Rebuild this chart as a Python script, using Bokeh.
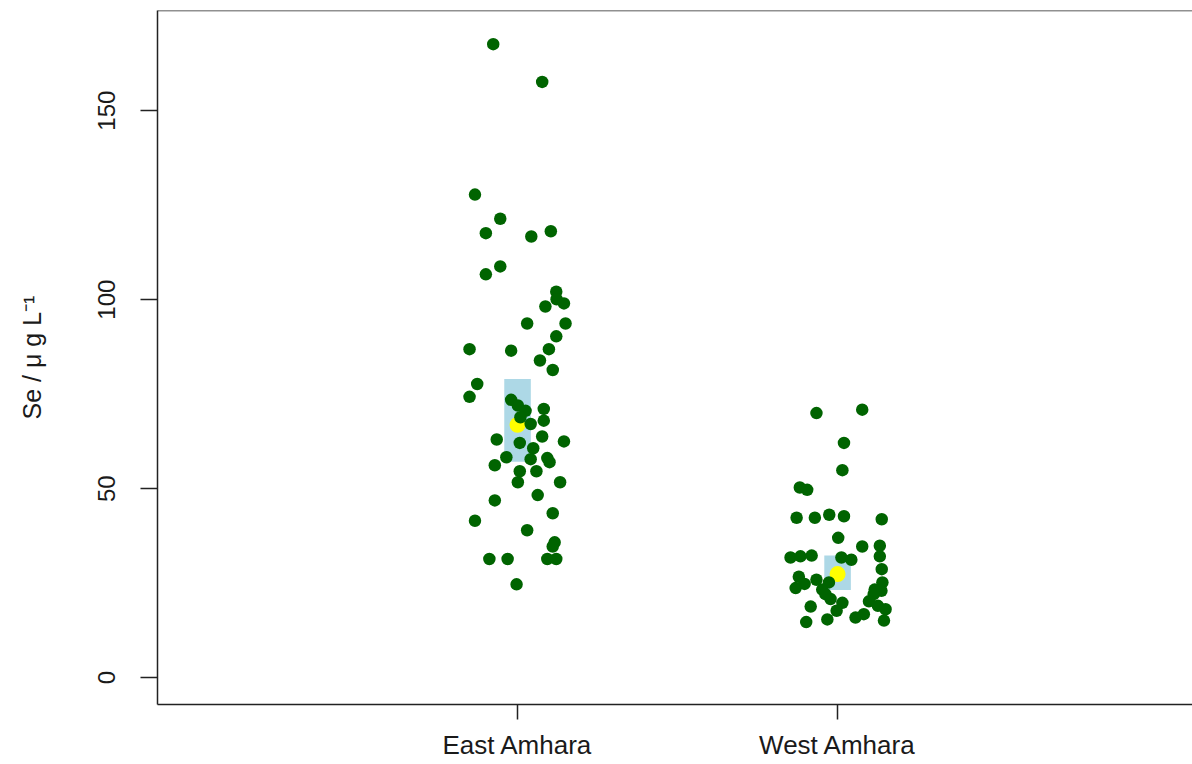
from bokeh.plotting import figure
from bokeh.models import FixedTicker, Span
from bokeh.embed import file_html
from bokeh.resources import INLINE

categories = ["East Amhara", "West Amhara"]
cat_pos = [1, 2]
y_ticks = [0, 50, 100, 150]

east_jitter = [-0.076, 0.077, -0.133, -0.054, -0.099, 0.043, 0.104, -0.054, -0.099, 0.121,
               0.122, 0.087, 0.145, 0.030, 0.150, 0.121, -0.150, -0.020, 0.098, 0.070,
               0.110, -0.126, -0.150, -0.020, 0.001, 0.025, 0.082, 0.009, 0.082, 0.041,
               0.077, 0.145, -0.065, 0.007, 0.049, -0.035, 0.041, 0.093, 0.100, -0.071,
               0.007, 0.059, 0.001, 0.133, 0.063, -0.071, 0.110, -0.133, 0.030, 0.116,
               0.110, -0.088, -0.031, 0.093, 0.121, -0.003]
east_se = [167.6, 157.6, 127.8, 121.4, 117.6, 116.7, 118.1, 108.8, 106.7, 102.1,
           100.1, 98.2, 99.0, 93.7, 93.7, 90.3, 86.9, 86.5, 86.9, 83.9,
           81.4, 77.7, 74.3, 73.5, 72.0, 70.6, 71.1, 68.9, 68.0, 67.1,
           63.8, 62.5, 63.0, 62.1, 60.7, 58.3, 57.8, 58.1, 57.0, 56.2,
           54.6, 54.6, 51.7, 51.7, 48.3, 46.9, 43.5, 41.5, 39.0, 35.8,
           34.7, 31.4, 31.4, 31.4, 31.4, 24.7]

west_jitter = [-0.066, 0.077, 0.020, 0.015, -0.118, -0.095, -0.128, -0.071, -0.026, 0.020,
               0.138, 0.002, 0.077, 0.132, 0.132, -0.147, -0.116, -0.081, 0.012, 0.043,
               0.138, -0.121, -0.066, -0.103, -0.131, -0.027, 0.140, -0.048, 0.116, 0.137,
               -0.038, 0.113, -0.022, 0.098, 0.015, -0.084, 0.126, 0.150, -0.003, 0.082,
               0.056, -0.032, -0.098, 0.145]
west_se = [70.0, 70.9, 62.1, 54.9, 50.3, 49.7, 42.3, 42.3, 43.1, 42.7,
           41.9, 37.0, 34.7, 34.9, 32.1, 31.8, 32.1, 32.3, 31.8, 31.2,
           28.7, 26.7, 25.9, 24.8, 23.7, 25.2, 25.2, 23.3, 23.3, 23.0,
           22.1, 22.1, 20.8, 20.2, 19.8, 18.8, 19.0, 18.1, 17.7, 16.8,
           15.9, 15.4, 14.7, 15.1]

group_mean = [66.9, 27.4]
ci_lower = [57.1, 23.2]
ci_upper = [79.0, 32.3]
box_width = 0.083

FONT = "Liberation Sans"
TXT = "#1a1a1a"

y_end = 176.5
p = figure(width=1192, height=764, output_backend="svg", toolbar_location=None,
           x_range=(-0.125, 3.109), y_range=(-7.1, y_end),
           min_border_left=157, min_border_right=0, min_border_top=10, min_border_bottom=60)
p.outline_line_color = None
p.xgrid.visible = False
p.ygrid.visible = False
p.background_fill_color = "white"

# CI boxes
p.quad(left=[c - box_width / 2 for c in cat_pos], right=[c + box_width / 2 for c in cat_pos],
       bottom=ci_lower, top=ci_upper, fill_color="#ADD8E6", line_color=None)
# means
p.scatter(cat_pos, group_mean, size=16, fill_color="yellow", line_color=None)

# points
ex = [cat_pos[0] + j for j in east_jitter]
wx = [cat_pos[1] + j for j in west_jitter]
p.scatter(ex, east_se, size=12.5, fill_color="#006400", line_color=None)
p.scatter(wx, west_se, size=12.5, fill_color="#006400", line_color=None)

# top frame line
p.add_layout(Span(location=y_end, dimension="width", line_color="#222222", line_width=1.5))

# axes
p.yaxis.ticker = FixedTicker(ticks=y_ticks)
p.yaxis.major_label_orientation = "vertical"
p.yaxis.axis_label = "Se / \u03bc g L\u207b\u00b9"
p.yaxis.axis_label_text_font = FONT
p.yaxis.axis_label_text_font_style = "normal"
p.yaxis.axis_label_text_font_size = "25px"
p.yaxis.axis_label_text_color = TXT
p.yaxis.axis_label_standoff = 50
p.yaxis.major_label_standoff = 25
p.yaxis.major_label_text_font_size = "24px"

p.xaxis.ticker = FixedTicker(ticks=cat_pos)
p.xaxis.major_label_overrides = {cat_pos[i]: categories[i] for i in range(len(categories))}
p.xaxis.major_label_standoff = 10
p.xaxis.major_label_text_font_size = "26px"

for ax in (p.xaxis, p.yaxis):
    ax.major_label_text_font = FONT
    ax.major_label_text_color = TXT
    ax.axis_line_color = "#222222"
    ax.axis_line_width = 1.5
    ax.major_tick_line_color = "#222222"
    ax.major_tick_line_width = 1.5
    ax.major_tick_in = 0
    ax.minor_tick_line_color = None
p.yaxis.major_tick_out = 17
p.xaxis.major_tick_out = 15

open("out.html", "w").write(file_html(p, INLINE))
